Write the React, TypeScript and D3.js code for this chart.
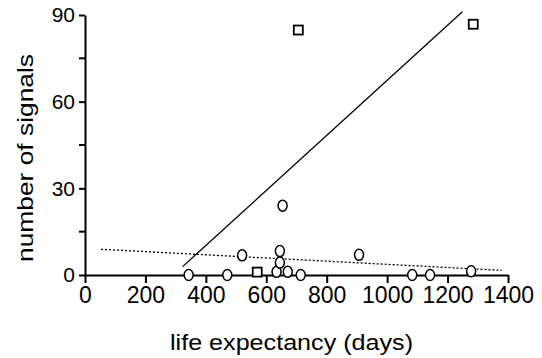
import { useEffect, useRef } from "react";
import * as d3 from "d3";

// circles: x = life expectancy (days), y = number of signals
const circleX = [343, 471, 520, 634, 645, 645, 654, 671, 714, 907, 1083, 1142, 1278];
const circleY = [0, 0, 6.8, 1.1, 4.3, 8.3, 24, 1.1, 0, 7, 0, 0, 1.3];
// squares
const squareX = [570, 706, 1285];
const squareY = [1, 84.8, 86.8];
// fitted lines (endpoints)
const solidX = [323, 1249];
const solidY = [2.9, 91.1];
const dottedX = [53, 1379];
const dottedY = [8.9, 1.6];

const xTicks = [0, 200, 400, 600, 800, 1000, 1200, 1400];
const yTicks = [0, 30, 60, 90];
const yMinor = [15, 45, 75];

export default function App() {
  const ref = useRef<SVGSVGElement>(null);

  useEffect(() => {
    if (!ref.current) return;
    const W = 542, H = 358;
    const svg = d3.select(ref.current).attr("width", W).attr("height", H);
    svg.selectAll("*").remove();
    const font = "Liberation Sans, Arial, sans-serif";

    const x = d3.scaleLinear().domain([0, 1400]).range([85, 508]);
    const y = d3.scaleLinear().domain([0, 90]).range([275, 15]);

    // axes
    const gx = svg.append("g").attr("transform", `translate(0,${y(0)})`)
      .call(d3.axisBottom(x).tickValues(xTicks).tickFormat(d3.format("d")).tickSize(8).tickSizeOuter(0).tickPadding(4));
    gx.select(".domain").attr("stroke", "#000").attr("stroke-width", 2);
    gx.selectAll("line").attr("stroke", "#000").attr("stroke-width", 2);
    gx.selectAll("text").attr("font-size", 23).attr("font-family", font).attr("fill", "#000");

    const gy = svg.append("g").attr("transform", `translate(${x(0)},0)`)
      .call(d3.axisLeft(y).tickValues(yTicks).tickSize(6).tickSizeOuter(0).tickPadding(4));
    gy.select(".domain").attr("stroke", "#000").attr("stroke-width", 2);
    gy.selectAll("line").attr("stroke", "#000").attr("stroke-width", 2);
    gy.selectAll("text").attr("font-size", 21).attr("font-family", font).attr("fill", "#000");
    gy.selectAll("line.minor").data(yMinor).enter().append("line")
      .attr("class", "minor")
      .attr("x1", -6).attr("x2", 0)
      .attr("y1", d => y(d)).attr("y2", d => y(d))
      .attr("stroke", "#000").attr("stroke-width", 2);

    // titles (glyphs in the original are a bit wider than Arial)
    svg.append("text").attr("x", 291.5).attr("y", 350)
      .attr("text-anchor", "middle").attr("font-size", 22).attr("font-family", font)
      .attr("textLength", 243).attr("lengthAdjust", "spacingAndGlyphs")
      .text("life expectancy (days)");
    svg.append("text").attr("transform", "translate(33,158) rotate(-90)")
      .attr("text-anchor", "middle").attr("font-size", 22).attr("font-family", font)
      .attr("textLength", 208).attr("lengthAdjust", "spacingAndGlyphs")
      .text("number of signals");

    // fitted lines
    svg.append("line")
      .attr("x1", x(solidX[0])).attr("y1", y(solidY[0]))
      .attr("x2", x(solidX[1])).attr("y2", y(solidY[1]))
      .attr("stroke", "#000").attr("stroke-width", 1.3);
    svg.append("line")
      .attr("x1", x(dottedX[0])).attr("y1", y(dottedY[0]))
      .attr("x2", x(dottedX[1])).attr("y2", y(dottedY[1]))
      .attr("stroke", "#000").attr("stroke-width", 1.3).attr("stroke-dasharray", "2,2");

    // circles
    svg.selectAll("ellipse.pt").data(circleX).enter().append("ellipse")
      .attr("class", "pt")
      .attr("cx", d => x(d)).attr("cy", (_, i) => y(circleY[i]))
      .attr("rx", 4.5).attr("ry", 5.5)
      .attr("fill", "#fff").attr("stroke", "#000").attr("stroke-width", 1.5);

    // squares
    svg.selectAll("rect.sq").data(squareX).enter().append("rect")
      .attr("class", "sq")
      .attr("x", d => x(d) - 4.5).attr("y", (_, i) => y(squareY[i]) - 4.5)
      .attr("width", 9).attr("height", 9)
      .attr("fill", "#fff").attr("stroke", "#000").attr("stroke-width", 1.8);
  }, []);

  return (
    <svg ref={ref} style={{ position: "absolute", left: 0, top: 0, background: "#fff" }} />
  );
}
